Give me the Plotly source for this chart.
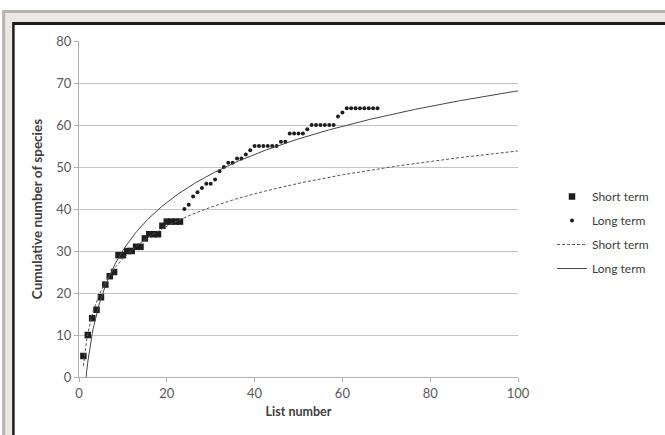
import numpy as np
import plotly.graph_objects as go

# ---- data ----
short_x = list(range(1, 24))
short_y = [5, 10, 14, 16, 19, 22, 24, 25, 29, 29, 30, 30, 31, 31, 33, 34, 34, 34, 36, 37, 37, 37, 37]

long_x = list(range(24, 69))
long_y = [40, 41, 43, 44, 45, 46, 46, 47, 49, 50, 51, 51, 52, 52, 53, 54,
          55, 55, 55, 55, 55, 55, 56, 56, 58, 58, 58, 58, 59,
          60, 60, 60, 60, 60, 60, 62, 63, 64, 64, 64, 64, 64, 64, 64, 64]

x_ticks = [0, 20, 40, 60, 80, 100]
y_ticks = [0, 10, 20, 30, 40, 50, 60, 70, 80]

# logarithmic trendlines fitted to the data (as in the spreadsheet)
sx = np.array(short_x, float); sy = np.array(short_y, float)
ax_all = np.array(short_x + long_x, float); ay_all = np.array(short_y + long_y, float)
a_s, b_s = np.polyfit(np.log(sx), sy, 1)
a_l, b_l = np.polyfit(np.log(ax_all), ay_all, 1)
tx = np.linspace(1, 100, 400)

W, H = 665, 435
L, R, T, B = 79, 519, 41, 377

def px(x):
    return (x - L) / (R - L)

def py(y):
    return (B - y) / (B - T)

fig = go.Figure()
fig.add_trace(go.Scatter(x=short_x, y=short_y, mode="markers", name="Short term",
                         marker=dict(symbol="square", size=6.5, color="#1e1e1e"),
                         legendgroup="a"))
fig.add_trace(go.Scatter(x=long_x, y=long_y, mode="markers", name="Long term",
                         marker=dict(symbol="circle", size=4, color="#1e1e1e"),
                         legendgroup="b"))
fig.add_trace(go.Scatter(x=tx, y=a_s * np.log(tx) + b_s, mode="lines", name="Short term",
                         line=dict(color="#555555", width=1, dash="3px,2px"),
                         legendgroup="c"))
fig.add_trace(go.Scatter(x=tx, y=a_l * np.log(tx) + b_l, mode="lines", name="Long term",
                         line=dict(color="#444444", width=1),
                         legendgroup="d"))

font_family = "Lato, 'Open Sans', sans-serif"
axis_common = dict(showline=True, linecolor="#b0b0b0", linewidth=1,
                   ticks="outside", tickcolor="#b0b0b0", ticklen=4,
                   tickfont=dict(family=font_family, size=13, color="#595959"),
                   zeroline=False)

fig.update_xaxes(range=[0, 100], tickvals=x_ticks, showgrid=False,
                 title=dict(text="<b>List number</b>", standoff=7,
                            font=dict(family=font_family, size=12.5, color="#404040")),
                 **axis_common)
fig.update_yaxes(range=[0, 80], tickvals=y_ticks, showgrid=True, gridcolor="#c4c4c4",
                 gridwidth=1,
                 title=dict(text="<b>Cumulative number of species</b>", standoff=10,
                            font=dict(family=font_family, size=13.5, color="#404040")),
                 **axis_common)

shapes = [
    dict(type="rect", xref="paper", yref="paper", layer="below",
         x0=px(2), x1=px(900), y0=py(700), y1=py(10),
         fillcolor="#bbb1ac", line=dict(width=0)),
    dict(type="rect", xref="paper", yref="paper", layer="below",
         x0=px(5), x1=px(900), y0=py(700), y1=py(13),
         fillcolor="#ebe8e5", line=dict(width=0)),
    dict(type="rect", xref="paper", yref="paper", layer="below",
         x0=px(12), x1=px(900), y0=py(700), y1=py(22),
         fillcolor="#1c1c1c", line=dict(width=0)),
    dict(type="rect", xref="paper", yref="paper", layer="below",
         x0=px(14.5), x1=px(900), y0=py(700), y1=py(25),
         fillcolor="#ffffff", line=dict(width=0)),
]

fig.update_layout(
    width=W, height=H,
    margin=dict(l=L, r=W - R, t=T, b=H - B, pad=0),
    paper_bgcolor="#ffffff", plot_bgcolor="rgba(0,0,0,0)",
    font=dict(family=font_family, size=12, color="#404040"),
    shapes=shapes,
    legend=dict(x=px(552), y=py(182), xanchor="left", yanchor="top",
                bgcolor="rgba(0,0,0,0)", tracegroupgap=5,
                font=dict(family=font_family, size=12, color="#404040"),
                traceorder="grouped"),
    showlegend=True,
)

fig.write_html("out.html", config={"displayModeBar": False},
               post_script="document.body.style.margin='0px';document.body.style.overflow='hidden';")
